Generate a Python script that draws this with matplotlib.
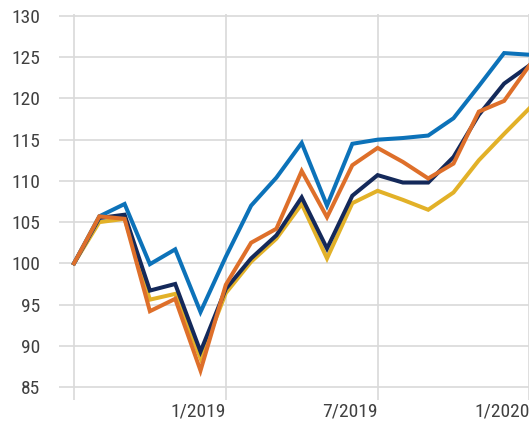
import numpy as np
import matplotlib
matplotlib.use('Agg')
import matplotlib as mpl
import matplotlib.pyplot as plt

# monthly index values, 7/2018 .. 1/2020
months = ['7/2018', '8/2018', '9/2018', '10/2018', '11/2018', '12/2018',
          '1/2019', '2/2019', '3/2019', '4/2019', '5/2019', '6/2019',
          '7/2019', '8/2019', '9/2019', '10/2019', '11/2019', '12/2019', '1/2020']

blue = [100, 105.7, 107.2, 99.9, 101.7, 94.1, 100.8, 107.0, 110.4, 114.6,
        107.0, 114.5, 115.0, 115.2, 115.5, 117.6, 121.5, 125.5, 125.3]
navy = [100, 105.5, 105.9, 96.7, 97.5, 89.3, 96.9, 100.6, 103.4, 108.0,
        101.8, 108.2, 110.7, 109.8, 109.8, 112.9, 118.0, 121.8, 124.0]
orange = [100, 105.7, 105.4, 94.2, 95.7, 87.0, 97.4, 102.5, 104.2, 111.2,
          105.6, 111.9, 114.0, 112.3, 110.3, 112.1, 118.4, 119.7, 124.0]
gold = [100, 105.0, 105.4, 95.6, 96.3, 88.5, 96.4, 100.2, 103.0, 107.2,
        100.6, 107.3, 108.8, 107.7, 106.5, 108.6, 112.5, 115.7, 118.8]

tick_pos = [0, 6, 12, 18]
tick_lab = ['', '1/2019', '7/2019', '1/2020']
yticks = np.arange(85, 131, 5)

mpl.rcParams['font.family'] = ['Roboto Condensed', 'DejaVu Sans']

fig = plt.figure(figsize=(5.29, 4.22), dpi=100)
ax = fig.add_axes([59/529, 22/422, 478/529, 386.5/422])

x = np.arange(len(months))
lw = 2.9
ax.plot(x, gold, color='#e2b128', lw=lw, solid_joinstyle='miter', zorder=3)
ax.plot(x, navy, color='#14295a', lw=lw, solid_joinstyle='miter', zorder=4)
ax.plot(x, blue, color='#0c72b9', lw=lw, solid_joinstyle='miter', zorder=5)
ax.plot(x, orange, color='#de6f2a', lw=lw, solid_joinstyle='miter', zorder=6)

ax.set_xlim(-0.593, 18.3)
ax.set_ylim(83.43, 130.3)
ax.set_yticks(yticks)
ax.set_xticks(tick_pos)
ax.set_xticklabels(tick_lab, ha='right')

for v in yticks:
    ax.axhline(v, color='#d9d9d9', lw=1.2, zorder=1)
for p in tick_pos:
    ax.axvline(p, color='#d9d9d9', lw=1.2, zorder=1)

for s in ax.spines.values():
    s.set_visible(False)
ax.tick_params(axis='both', length=0, labelsize=14, colors='#404040')
ax.tick_params(axis='y', pad=13.5)
ax.tick_params(axis='x', pad=1.5)

plt.savefig('out.png', dpi=100)
plt.close()
